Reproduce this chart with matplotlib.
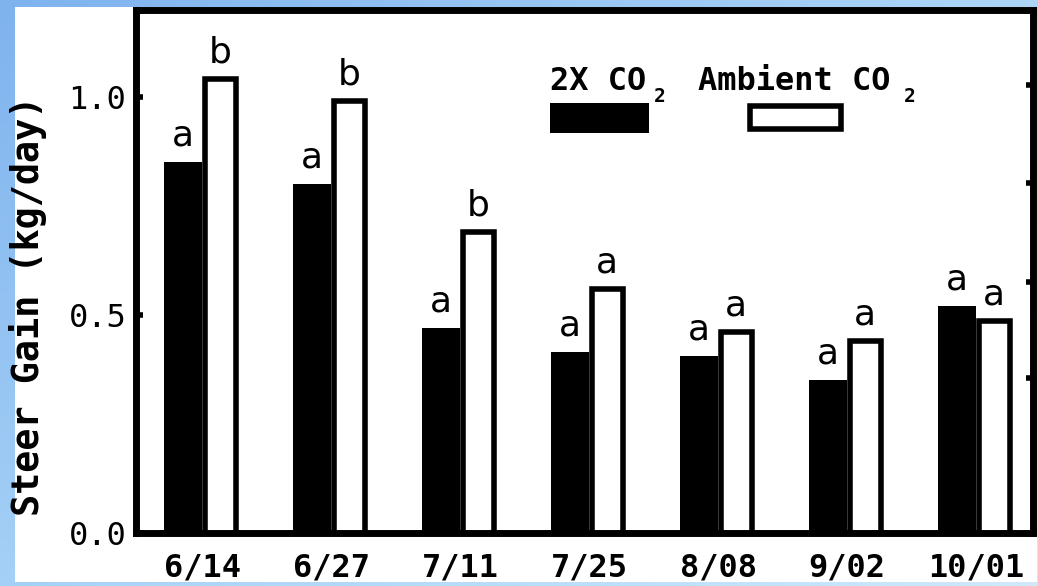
import matplotlib
matplotlib.use("Agg")
import matplotlib.pyplot as plt
import numpy as np
from matplotlib.patches import Rectangle

dates = ["6/14", "6/27", "7/11", "7/25", "8/08", "9/02", "10/01"]
elevated_co2 = [0.85, 0.80, 0.47, 0.415, 0.405, 0.35, 0.52]
ambient_co2 = [1.04, 0.99, 0.69, 0.56, 0.46, 0.44, 0.485]
elevated_letters = ["a", "a", "a", "a", "a", "a", "a"]
ambient_letters = ["b", "b", "b", "a", "a", "a", "a"]
right_ticks = [0.355, 0.576, 0.803, 1.028]

plt.rcParams["font.family"] = ["DejaVu Sans Mono", "DejaVu Sans"]

W, H = 1038, 586
fig = plt.figure(figsize=(W / 100, H / 100), dpi=100)

# sky-ish blue backdrop with the white slide panel on top
bg = fig.add_axes([0, 0, 1, 1], zorder=-10)
gx, gy = np.meshgrid(np.linspace(0, 1, 200), np.linspace(0, 1, 100))
grad = 0.55 * gx + 0.45 * gy
bg.imshow(grad, cmap=matplotlib.colors.LinearSegmentedColormap.from_list(
    "sky", ["#7fb3ee", "#a9d3f7", "#cfe9fb"]), aspect="auto", extent=[0, 1, 0, 1])
bg.axis("off")
fig.patches.append(Rectangle((15 / W, 4 / H), (1037 - 15) / W, 575 / H,
                             transform=fig.transFigure, facecolor="white",
                             edgecolor="none", zorder=-5))

ax = fig.add_axes([136 / W, 53 / H, 897 / W, 523.5 / H])
ax.set_facecolor("white")
x = np.arange(len(dates))
bw_black = 0.295
bw_white = 0.24

ax.bar(x - bw_black, elevated_co2, width=bw_black, align="edge",
       color="black", linewidth=0, zorder=2)
ax.bar(x + 0.02, ambient_co2, width=bw_white, align="edge",
       facecolor="white", edgecolor="black", linewidth=4, zorder=3)

for i in range(len(dates)):
    ax.annotate(elevated_letters[i], (x[i] - bw_black / 2, elevated_co2[i]),
                xytext=(0, 12), textcoords="offset points", ha="center",
                va="baseline", fontsize=26, family="DejaVu Sans")
    ax.annotate(ambient_letters[i], (x[i] + 0.02 + bw_white / 2, ambient_co2[i]),
                xytext=(0, 12), textcoords="offset points", ha="center",
                va="baseline", fontsize=26, family="DejaVu Sans")

ax.set_xlim(-0.512, 6.442)
ax.set_ylim(0, 1.2)
ax.set_xticks(x)
ax.set_xticklabels(dates, fontsize=23, fontweight="bold")
ax.set_yticks([0.0, 0.5, 1.0])
ax.set_yticklabels(["0.0", "0.5", "1.0"], fontsize=23)
ax.tick_params(axis="x", length=0, pad=14)
ax.tick_params(axis="y", direction="in", length=5, width=4, pad=7)
ax.set_ylabel("Steer Gain (kg/day)", fontsize=26.5, fontweight="bold")
ax.yaxis.set_label_coords(-0.099, 0.434)
for s in ax.spines.values():
    s.set_linewidth(4.8)

ax2 = ax.twinx()
ax2.set_ylim(ax.get_ylim())
ax2.set_yticks(right_ticks)
ax2.tick_params(direction="in", length=5, width=4, labelright=False)
for s in ax2.spines.values():
    s.set_linewidth(4.8)

# legend drawn by hand, like the original slide
def fx(px):
    return (px - 136) / 897

def fy(py):
    return (533 - py) / 523.5

ax.add_patch(Rectangle((fx(550), fy(133)), fx(649) - fx(550), fy(103) - fy(133),
                       transform=ax.transAxes, facecolor="black", edgecolor="none",
                       zorder=4))
ax.add_patch(Rectangle((fx(750), fy(129)), fx(841) - fx(750), fy(106) - fy(129),
                       transform=ax.transAxes, facecolor="white", edgecolor="black",
                       linewidth=4, zorder=4))
ax.text(fx(550), fy(90), "2X CO", transform=ax.transAxes, fontsize=23,
        fontweight="bold", va="baseline", ha="left")
ax.text(fx(654), fy(102), "2", transform=ax.transAxes, fontsize=14,
        fontweight="bold", va="baseline", ha="left")
ax.text(fx(698), fy(90), "Ambient CO", transform=ax.transAxes, fontsize=23,
        fontweight="bold", va="baseline", ha="left")
ax.text(fx(904), fy(102), "2", transform=ax.transAxes, fontsize=14,
        fontweight="bold", va="baseline", ha="left")

fig.savefig("out.png", dpi=100)
